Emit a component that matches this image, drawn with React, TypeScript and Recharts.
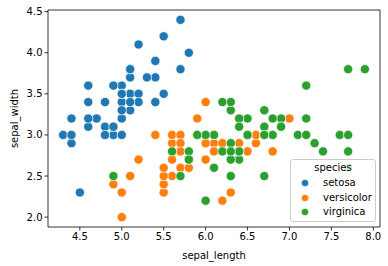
import React from 'react';
import { ScatterChart, Scatter, XAxis, YAxis, Legend, ReferenceLine } from 'recharts';

const setosaLength = [5.1,4.9,4.7,4.6,5.0,5.4,4.6,5.0,4.4,4.9,5.4,4.8,4.8,4.3,5.8,5.7,5.4,5.1,5.7,5.1,5.4,5.1,4.6,5.1,4.8,5.0,5.0,5.2,5.2,4.7,4.8,5.4,5.2,5.5,4.9,5.0,5.5,4.9,4.4,5.1,5.0,4.5,4.4,5.0,5.1,4.8,5.1,4.6,5.3,5.0];
const setosaWidth = [3.5,3.0,3.2,3.1,3.6,3.9,3.4,3.4,2.9,3.1,3.7,3.4,3.0,3.0,4.0,4.4,3.9,3.5,3.8,3.8,3.4,3.7,3.6,3.3,3.4,3.0,3.4,3.5,3.4,3.2,3.1,3.4,4.1,4.2,3.1,3.2,3.5,3.6,3.0,3.4,3.5,2.3,3.2,3.5,3.8,3.0,3.8,3.2,3.7,3.3];
const versicolorLength = [7.0,6.4,6.9,5.5,6.5,5.7,6.3,4.9,6.6,5.2,5.0,5.9,6.0,6.1,5.6,6.7,5.6,5.8,6.2,5.6,5.9,6.1,6.3,6.1,6.4,6.6,6.8,6.7,6.0,5.7,5.5,5.5,5.8,6.0,5.4,6.0,6.7,6.3,5.6,5.5,5.5,6.1,5.8,5.0,5.6,5.7,5.7,6.2,5.1,5.7];
const versicolorWidth = [3.2,3.2,3.1,2.3,2.8,2.8,3.3,2.4,2.9,2.7,2.0,3.0,2.2,2.9,2.9,3.1,3.0,2.7,2.2,2.5,3.2,2.8,2.5,2.8,2.9,3.0,2.8,3.0,2.9,2.6,2.4,2.4,2.7,2.7,3.0,3.4,3.1,2.3,3.0,2.5,2.6,3.0,2.6,2.3,2.7,3.0,2.9,2.9,2.5,2.8];
const virginicaLength = [6.3,5.8,7.1,6.3,6.5,7.6,4.9,7.3,6.7,7.2,6.5,6.4,6.8,5.7,5.8,6.4,6.5,7.7,7.7,6.0,6.9,5.6,7.7,6.3,6.7,7.2,6.2,6.1,6.4,7.2,7.4,7.9,6.4,6.3,6.1,7.7,6.3,6.4,6.0,6.9,6.7,6.9,5.8,6.8,6.7,6.7,6.3,6.5,6.2,5.9];
const virginicaWidth = [3.3,2.7,3.0,2.9,3.0,3.0,2.5,2.9,2.5,3.6,3.2,2.7,3.0,2.5,2.8,3.2,3.0,3.8,2.6,2.2,3.2,2.8,2.8,2.7,3.3,3.2,2.8,3.0,2.8,3.0,2.8,3.8,2.8,2.8,2.6,3.0,3.4,3.1,3.0,3.1,3.1,3.1,2.7,3.2,3.3,3.0,2.5,3.0,3.4,3.0];

const speciesNames = ['setosa', 'versicolor', 'virginica'];
const speciesColors = ['#1f77b4', '#ff7f0e', '#2ca02c'];
const xTicks = [4.5, 5.0, 5.5, 6.0, 6.5, 7.0, 7.5, 8.0];
const yTicks = [2.0, 2.5, 3.0, 3.5, 4.0, 4.5];
const xDomain = [4.12, 8.08];
const yDomain = [1.88, 4.52];

const zip = (xs: number[], ys: number[]) => xs.map((x, i) => ({ x, y: ys[i] }));
const seriesData = [
  zip(setosaLength, setosaWidth),
  zip(versicolorLength, versicolorWidth),
  zip(virginicaLength, virginicaWidth),
];

const makeShape = (color: string) => (p: any) => (
  <circle cx={p.cx} cy={p.cy} r={4.6} fill={color} stroke="#ffffff" strokeWidth={0.7} />
);

const LegendBox = () => (
  <div style={{
    width: 86, height: 63, boxSizing: 'border-box', border: '1px solid #cccccc', borderRadius: 3,
    background: 'rgba(255,255,255,0.8)', fontFamily: 'DejaVu Sans', fontSize: 10, color: '#000',
    position: 'relative'
  }}>
    <div style={{ position: 'absolute', left: 0, width: 84, top: 2, textAlign: 'center', lineHeight: '12px' }}>species</div>
    {speciesNames.map((n, i) => (
      <div key={n} style={{ position: 'absolute', left: 0, top: 17 + i * 14.5, height: 12, width: 84 }}>
        <svg width={20} height={12} style={{ position: 'absolute', left: 9, top: 0 }}>
          <circle cx={5} cy={6} r={3.6} fill={speciesColors[i]} stroke="#fff" strokeWidth={0.5} />
        </svg>
        <span style={{ position: 'absolute', left: 32, top: 0, lineHeight: '12px' }}>{n}</span>
      </div>
    ))}
  </div>
);

const tickStyle = { fill: '#000', fontSize: 10, fontFamily: 'DejaVu Sans' };

export default function App() {
  return (
    <div style={{ position: 'absolute', left: 0, top: 0, width: 388, height: 266, background: '#fff', fontFamily: 'DejaVu Sans' }}>
      <ScatterChart width={388} height={266} margin={{ top: 10, right: 8, bottom: 0, left: 0 }}>
        <XAxis
          type="number" dataKey="x" domain={xDomain} ticks={xTicks} allowDataOverflow
          tickFormatter={(v: number) => v.toFixed(1)} height={39}
          tick={tickStyle} tickSize={3.5} tickMargin={2}
          axisLine={{ stroke: '#000', strokeWidth: 0.8 }} tickLine={{ stroke: '#000', strokeWidth: 0.8 }}
          label={{ value: 'sepal_length', position: 'insideBottom', offset: 7, fill: '#000', fontSize: 10 }}
        />
        <YAxis
          type="number" dataKey="y" domain={yDomain} ticks={yTicks} allowDataOverflow
          tickFormatter={(v: number) => v.toFixed(1)} width={48}
          tick={tickStyle} tickSize={3.5} tickMargin={2}
          axisLine={{ stroke: '#000', strokeWidth: 0.8 }} tickLine={{ stroke: '#000', strokeWidth: 0.8 }}
          label={{ value: 'sepal_width', position: 'center', angle: -90, dx: -10, fill: '#000', fontSize: 10 }}
        />
        <ReferenceLine y={yDomain[1]} stroke="#000" strokeWidth={0.8} ifOverflow="visible" />
        <ReferenceLine x={xDomain[1]} stroke="#000" strokeWidth={0.8} ifOverflow="visible" />
        <Legend layout="vertical" align="center" verticalAlign="middle"
          wrapperStyle={{ position: 'absolute', left: 290, top: 159, width: 86, height: 63 }}
          content={() => <LegendBox />} />
        {seriesData.map((d, i) => (
          <Scatter key={speciesNames[i]} name={speciesNames[i]} data={d} fill={speciesColors[i]}
            shape={makeShape(speciesColors[i])} isAnimationActive={false} />
        ))}
      </ScatterChart>
    </div>
  );
}
